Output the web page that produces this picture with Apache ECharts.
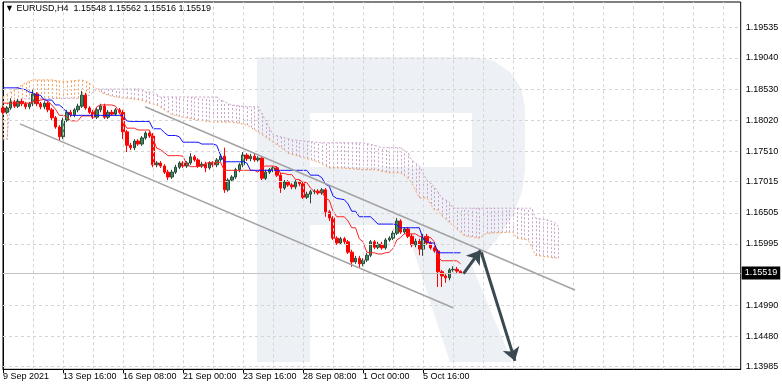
<!DOCTYPE html>
<html><head><meta charset="utf-8">
<script src="https://cdn.jsdelivr.net/npm/echarts@6/dist/echarts.min.js"></script>
<style>html,body{margin:0;padding:0;background:#fff}#c{width:782px;height:389px}</style>
</head><body><div id="c"></div>
<script>
// ---- data ----
const symbolName = 'EURUSD,H4';
const xLabels = ['9 Sep 2021','13 Sep 16:00','16 Sep 08:00','21 Sep 00:00','23 Sep 16:00','28 Sep 08:00','1 Oct 00:00','5 Oct 16:00'];
const xLabelBars = [0,16,32,48,64,80,96,112];
const yTicks = [1.13985,1.14480,1.14990,1.15995,1.16505,1.17015,1.17510,1.18020,1.18530,1.19040,1.19535];
// [open, close, low, high]
const ohlc = [
[1.1822,1.1815,1.1812,1.1825],[1.1815,1.1822,1.1812,1.1825],[1.1822,1.1832,1.1819,1.1838],[1.1832,1.1825,1.1822,1.1835],
[1.1825,1.1833,1.1822,1.1837],[1.1833,1.1829,1.1825,1.1837],[1.1829,1.1824,1.1820,1.1832],[1.1824,1.1829,1.1820,1.1832],
[1.1829,1.1845,1.1825,1.1852],[1.1845,1.1829,1.1825,1.1848],[1.1829,1.1824,1.1820,1.1832],[1.1824,1.1830,1.1820,1.1833],
[1.1830,1.1819,1.1815,1.1833],[1.1819,1.1806,1.1802,1.1822],[1.1806,1.1791,1.1788,1.1809],[1.1791,1.1775,1.1768,1.1794],
[1.1775,1.1802,1.1771,1.1806],[1.1802,1.1815,1.1799,1.1819],[1.1815,1.1811,1.1807,1.1819],[1.1811,1.1819,1.1807,1.1822],
[1.1819,1.1825,1.1815,1.1829],[1.1825,1.1843,1.1822,1.1850],[1.1843,1.1822,1.1819,1.1847],[1.1822,1.1815,1.1812,1.1825],
[1.1815,1.1807,1.1804,1.1819],[1.1807,1.1819,1.1804,1.1822],[1.1819,1.1825,1.1815,1.1829],[1.1825,1.1807,1.1804,1.1829],
[1.1807,1.1815,1.1804,1.1819],[1.1815,1.1812,1.1809,1.1819],[1.1812,1.1819,1.1809,1.1822],[1.1819,1.1815,1.1812,1.1822],
[1.1815,1.1783,1.1771,1.1819],[1.1783,1.1761,1.1750,1.1786],[1.1761,1.1757,1.1753,1.1765],[1.1757,1.1768,1.1753,1.1771],
[1.1768,1.1763,1.1760,1.1771],[1.1763,1.1773,1.1760,1.1776],[1.1773,1.1781,1.1770,1.1784],[1.1781,1.1776,1.1773,1.1784],
[1.1776,1.1729,1.1725,1.1781],[1.1729,1.1732,1.1725,1.1735],[1.1732,1.1727,1.1724,1.1735],[1.1727,1.1717,1.1714,1.1730],
[1.1717,1.1709,1.1704,1.1721],[1.1709,1.1717,1.1706,1.1721],[1.1717,1.1725,1.1714,1.1729],[1.1725,1.1732,1.1722,1.1735],
[1.1732,1.1727,1.1724,1.1735],[1.1727,1.1732,1.1724,1.1735],[1.1732,1.1742,1.1729,1.1748],[1.1742,1.1737,1.1734,1.1745],
[1.1737,1.1727,1.1724,1.1740],[1.1727,1.1730,1.1724,1.1734],[1.1730,1.1724,1.1717,1.1734],[1.1724,1.1732,1.1721,1.1735],
[1.1732,1.1729,1.1725,1.1735],[1.1729,1.1737,1.1725,1.1740],[1.1737,1.1743,1.1734,1.1747],[1.1743,1.1688,1.1683,1.1757],
[1.1688,1.1704,1.1685,1.1707],[1.1704,1.1709,1.1701,1.1712],[1.1709,1.1721,1.1706,1.1724],[1.1721,1.1729,1.1717,1.1732],
[1.1729,1.1745,1.1725,1.1750],[1.1745,1.1739,1.1735,1.1748],[1.1739,1.1743,1.1735,1.1747],[1.1743,1.1737,1.1734,1.1747],
[1.1737,1.1740,1.1734,1.1743],[1.1740,1.1707,1.1704,1.1743],[1.1707,1.1717,1.1704,1.1721],[1.1717,1.1721,1.1714,1.1724],
[1.1721,1.1724,1.1717,1.1727],[1.1724,1.1712,1.1709,1.1727],[1.1712,1.1691,1.1683,1.1716],[1.1691,1.1701,1.1688,1.1704],
[1.1701,1.1696,1.1693,1.1704],[1.1696,1.1693,1.1689,1.1699],[1.1693,1.1701,1.1689,1.1704],[1.1701,1.1698,1.1694,1.1704],
[1.1698,1.1676,1.1673,1.1701],[1.1676,1.1681,1.1673,1.1685],[1.1681,1.1685,1.1666,1.1688],[1.1685,1.1686,1.1681,1.1689],
[1.1686,1.1683,1.1680,1.1689],[1.1683,1.1688,1.1680,1.1691],[1.1688,1.1652,1.1644,1.1691],[1.1652,1.1642,1.1637,1.1655],
[1.1642,1.1609,1.1606,1.1645],[1.1609,1.1601,1.1598,1.1612],[1.1601,1.1608,1.1598,1.1611],[1.1608,1.1603,1.1599,1.1611],
[1.1603,1.1586,1.1583,1.1606],[1.1586,1.1570,1.1562,1.1590],[1.1570,1.1576,1.1567,1.1580],[1.1576,1.1567,1.1560,1.1580],
[1.1567,1.1573,1.1563,1.1576],[1.1573,1.1581,1.1570,1.1585],[1.1581,1.1603,1.1578,1.1606],[1.1603,1.1594,1.1591,1.1606],
[1.1594,1.1599,1.1591,1.1603],[1.1599,1.1593,1.1590,1.1603],[1.1593,1.1606,1.1590,1.1609],[1.1606,1.1609,1.1603,1.1612],
[1.1609,1.1617,1.1606,1.1621],[1.1617,1.1637,1.1614,1.1642],[1.1637,1.1619,1.1616,1.1640],[1.1619,1.1624,1.1616,1.1627],
[1.1624,1.1612,1.1609,1.1627],[1.1612,1.1598,1.1594,1.1616],[1.1598,1.1604,1.1594,1.1608],[1.1604,1.1591,1.1581,1.1608],
[1.1591,1.1612,1.1580,1.1616],[1.1612,1.1601,1.1598,1.1616],[1.1601,1.1593,1.1590,1.1604],[1.1593,1.1588,1.1585,1.1596],
[1.1588,1.1554,1.1529,1.1591],[1.1554,1.1547,1.1529,1.1557],[1.1547,1.1544,1.1536,1.1550],[1.1544,1.1557,1.1540,1.1560],
[1.1557,1.1558,1.1554,1.1563],[1.1558,1.1555,1.1552,1.1562],[1.15548,1.15519,1.15516,1.15562]
];
const tenkan = [
1.1830,1.1830,1.1830,1.1830,1.1830,1.1830,1.1830,1.1830,1.1832,1.1832,
1.1835,1.1836,1.1833,1.1827,1.1820,1.1810,1.1810,1.1808,1.1801,1.1801,
1.1801,1.1809,1.1809,1.1809,1.1811,1.1824,1.1827,1.1827,1.1827,1.1827,
1.1825,1.1816,1.1800,1.1789,1.1789,1.1789,1.1786,1.1786,1.1786,1.1786,
1.1772,1.1756,1.1754,1.1749,1.1744,1.1744,1.1744,1.1744,1.1743,1.1730,
1.1726,1.1726,1.1726,1.1727,1.1731,1.1733,1.1733,1.1733,1.1733,1.1720,
1.1720,1.1720,1.1720,1.1720,1.1720,1.1720,1.1720,1.1720,1.1717,1.1725,
1.1727,1.1727,1.1727,1.1726,1.1715,1.1715,1.1713,1.1713,1.1705,1.1705,
1.1700,1.1700,1.1691,1.1685,1.1685,1.1685,1.1674,1.1671,1.1653,1.1644,
1.1644,1.1644,1.1637,1.1626,1.1626,1.1608,1.1603,1.1586,1.1585,1.1585,
1.1583,1.1583,1.1585,1.1586,1.1592,1.1606,1.1610,1.1616,1.1616,1.1616,
1.1616,1.1612,1.1611,1.1611,1.1610,1.1603,1.1578,1.1572,1.1572,1.1572,
1.1572,1.1572,1.1567
];
const kijun = [
1.1855,1.1855,1.1855,1.1855,1.1855,1.1853,1.1852,1.1848,1.1847,1.1843,
1.1843,1.1835,1.1835,1.1835,1.1827,1.1827,1.1822,1.1815,1.1810,1.1810,
1.1810,1.1810,1.1810,1.1810,1.1810,1.1810,1.1810,1.1810,1.1810,1.1810,
1.1810,1.1810,1.1810,1.1801,1.1800,1.1800,1.1800,1.1800,1.1800,1.1800,
1.1788,1.1788,1.1788,1.1782,1.1777,1.1777,1.1777,1.1775,1.1766,1.1766,
1.1766,1.1766,1.1766,1.1763,1.1763,1.1763,1.1763,1.1761,1.1745,1.1734,
1.1734,1.1734,1.1734,1.1734,1.1734,1.1732,1.1720,1.1720,1.1720,1.1720,
1.1720,1.1720,1.1720,1.1720,1.1720,1.1720,1.1720,1.1720,1.1720,1.1720,
1.1720,1.1720,1.1712,1.1712,1.1712,1.1708,1.1697,1.1694,1.1678,1.1674,
1.1673,1.1672,1.1665,1.1653,1.1653,1.1644,1.1644,1.1644,1.1644,1.1638,
1.1632,1.1632,1.1632,1.1632,1.1632,1.1631,1.1626,1.1626,1.1626,1.1626,
1.1626,1.1626,1.1608,1.1603,1.1601,1.1601,1.1585,1.1585,1.1585,1.1585,
1.1585,1.1585,1.1585
];
// [bar, price] read at the turning points of the cloud edges (shifted 26 bars ahead)
const senkouA = [[0,1.1840],[3,1.1852],[6,1.1863],[8,1.1868],[13,1.1868],[16,1.1865],[21,1.1868],[23,1.1863],[25,1.1853],[26,1.1848],
[28,1.1843],[30,1.1840],[33,1.1838],[37,1.1835],[39,1.1830],[41,1.1827],[45,1.1811],[48,1.1807],[52,1.1802],[56,1.1799],
[61,1.1799],[63,1.1797],[65,1.1794],[68,1.1783],[71,1.1770],[74,1.1758],[76,1.1748],[84,1.1734],[87,1.1724],[90,1.1724],
[96,1.1721],[99,1.1721],[103,1.1716],[106,1.1716],[108,1.1707],[109,1.1699],[111,1.1675],[113,1.1675],[115,1.1655],[116,1.1655],
[117,1.1645],[119,1.1635],[121,1.1624],[123,1.1613],[127,1.1609],[129,1.1617],[136,1.1619],[137,1.1609],[140,1.1606],[141,1.1594],
[142,1.1581],[148,1.1576]];
const senkouB = [[0,1.1770],[1,1.1770],[2,1.1832],[5,1.1837],[20,1.1838],[23,1.1843],[25,1.1853],[37,1.1853],[38,1.1848],[40,1.1848],
[42,1.1840],[57,1.1840],[58,1.1835],[61,1.1827],[65,1.1824],[68,1.1824],[70,1.1802],[72,1.1778],[77,1.1770],[85,1.1765],
[96,1.1765],[99,1.1761],[101,1.1757],[106,1.1757],[108,1.1748],[109,1.1737],[111,1.1727],[113,1.1704],[115,1.1693],[117,1.1675],
[119,1.1668],[120,1.1658],[141,1.1658],[142,1.1642],[145,1.1639],[147,1.1635],[148,1.1629]];
const upperChannel = [[37.9,1.1824],[152.5,1.1524]];
const lowerChannel = [[4.5,1.1796],[120,1.1495]];
const arrowUp = [[122.8,1.1551],[127.3,1.1589]];
const arrowDown = [[127.5,1.1586],[136.5,1.1408]];
const lastPrice = 1.15519;

// ---- chart ----
const candleData = ohlc.map((r, i) => [i, r[0], r[1], r[2], r[3]]);
const last = ohlc[ohlc.length - 1];
const titleText = '\u25BC ' + symbolName + '  ' + [last[0], last[3], last[2], last[1]].map(v => v.toFixed(5)).join(' ');
const vGrid = []; for (let k = 8; k <= 192; k += 8) vGrid.push(k);
const FONT = 'Liberation Sans, Arial, sans-serif';
const WM = '#edf0f5';
const KUMO_UP = '#f4a460', KUMO_DN = '#c9a2c9';

function interp(pts, x) {
  if (x <= pts[0][0]) return pts[0][1];
  for (let k = 1; k < pts.length; k++) {
    if (x <= pts[k][0]) { const a = pts[k-1], b = pts[k]; return a[1] + (b[1]-a[1])*(x-a[0])/(b[0]-a[0]); }
  }
  return pts[pts.length-1][1];
}
const cloudEnd = senkouA[senkouA.length-1][0];

// watermark "R" outline (decoration, screen pixels)
const rOutline = [[257,57],[475,57],[494,61],[510,72],[521,88],[525,107],[525,170],[522,192],[513,215],[497,240],[472,266],
  [512,362],[450,362],[405,225],[310,225],[310,362],[257,362]];

const chart = echarts.init(document.getElementById('c'), null, {renderer: 'canvas'});
chart.setOption({
  animation: false,
  backgroundColor: '#fff',
  title: {text: titleText, left: 5, top: 4, padding: 0, textStyle: {fontSize: 9, fontWeight: 'normal', color: '#000', fontFamily: FONT}},
  grid: {left: 3, right: 41.3, top: 2, bottom: 19.7, show: true, borderColor: '#000', borderWidth: 1, backgroundColor: 'transparent', outerBoundsMode: 'none'},
  graphic: {elements: [
    {type: 'polygon', z: -10, silent: true, shape: {points: rOutline}, style: {fill: WM}},
    {type: 'rect', z: -9, silent: true, shape: {x: 310, y: 113, width: 162, height: 54}, style: {fill: '#fff'}}
  ]},
  xAxis: {
    type: 'value', min: 0, max: 196.7, position: 'bottom',
    axisLine: {show: true, onZero: false, lineStyle: {color: '#000', width: 1}},
    axisTick: {show: true, length: 4, customValues: xLabelBars, lineStyle: {color: '#000'}},
    axisLabel: {customValues: xLabelBars, formatter: v => xLabels[xLabelBars.indexOf(v)] || '', align: 'left', color: '#000', fontSize: 9, fontFamily: FONT, margin: 3},
    splitLine: {show: false}
  },
  yAxis: {
    type: 'value', position: 'right', min: 1.13943, max: 1.19955, scale: true,
    axisLine: {show: true, lineStyle: {color: '#000', width: 1}},
    axisTick: {show: true, length: 3, customValues: yTicks, lineStyle: {color: '#000'}},
    axisLabel: {customValues: yTicks, formatter: v => v.toFixed(5), color: '#000', fontSize: 9, fontFamily: FONT, margin: 5},
    splitLine: {show: false}
  },
  series: [
    { // kumo hatching
      type: 'custom', z: 1, silent: true, clip: true, data: [[0, 0]],
      renderItem: (params, api) => {
        const children = [];
        for (let i = 0; i <= cloudEnd; i++) {
          const a = interp(senkouA, i), b = interp(senkouB, i);
          const p1 = api.coord([i, a]), p2 = api.coord([i, b]);
          const x = Math.round(p1[0]) + 0.5;
          children.push({type: 'line', shape: {x1: x, y1: p1[1], x2: x, y2: p2[1]},
            style: {stroke: a >= b ? KUMO_UP : KUMO_DN, lineWidth: 1, lineDash: [2, 2]}});
        }
        return {type: 'group', children};
      }
    },
    {
      name: 'Senkou B', type: 'line', z: 2, data: senkouB, symbol: 'none', silent: true,
      lineStyle: {color: KUMO_DN, width: 1, type: [2, 2]},
      markLine: {silent: true, symbol: ['none', 'none'], label: {show: false}, animation: false, precision: 6,
        lineStyle: {type: [3, 3], color: '#d4d4d4', width: 1},
        data: yTicks.map(v => ({yAxis: v})).concat(vGrid.map(v => ({xAxis: v})))}
    },
    {name: 'Senkou A', type: 'line', z: 2, data: senkouA, symbol: 'none', silent: true, lineStyle: {color: KUMO_UP, width: 1, type: [2, 2]},
      markLine: {silent: true, symbol: ['none', 'none'], animation: false, precision: 6,
        data: [{yAxis: lastPrice}],
        lineStyle: {type: 'solid', color: '#c4c4c4', width: 1},
        label: {show: true, position: 'end', distance: 1, formatter: () => lastPrice.toFixed(5), backgroundColor: '#000', color: '#fff', fontSize: 9, fontFamily: FONT, padding: [2, 3, 2, 3]}}
    },
    {
      name: 'EURUSD', type: 'candlestick', z: 3, data: candleData, encode: {x: 0, y: [1, 2, 3, 4]}, barWidth: 3,
      itemStyle: {color: '#3a8a5c', color0: '#ff0000', borderColor: '#2a4a3a', borderColor0: '#ff0000', borderWidth: 1}
    },
    {name: 'Tenkan', type: 'line', z: 4, data: tenkan.map((v, i) => [i, v]), symbol: 'none', silent: true, lineStyle: {color: '#ff2020', width: 1}},
    {name: 'Kijun', type: 'line', z: 4, data: kijun.map((v, i) => [i, v]), symbol: 'none', silent: true, lineStyle: {color: '#1010ff', width: 1}},
    {type: 'lines', coordinateSystem: 'cartesian2d', z: 5, silent: true, symbol: ['none', 'none'],
      lineStyle: {color: '#a3a3a3', width: 1.5, opacity: 1},
      data: [{coords: upperChannel}, {coords: lowerChannel}]},
    {type: 'lines', coordinateSystem: 'cartesian2d', z: 6, silent: true, symbol: ['none', 'arrow'], symbolSize: 13,
      lineStyle: {color: '#3a4852', width: 3, opacity: 1},
      itemStyle: {color: '#3a4852'},
      data: [{coords: arrowUp}, {coords: arrowDown}]}
  ]
});
</script></body></html>
